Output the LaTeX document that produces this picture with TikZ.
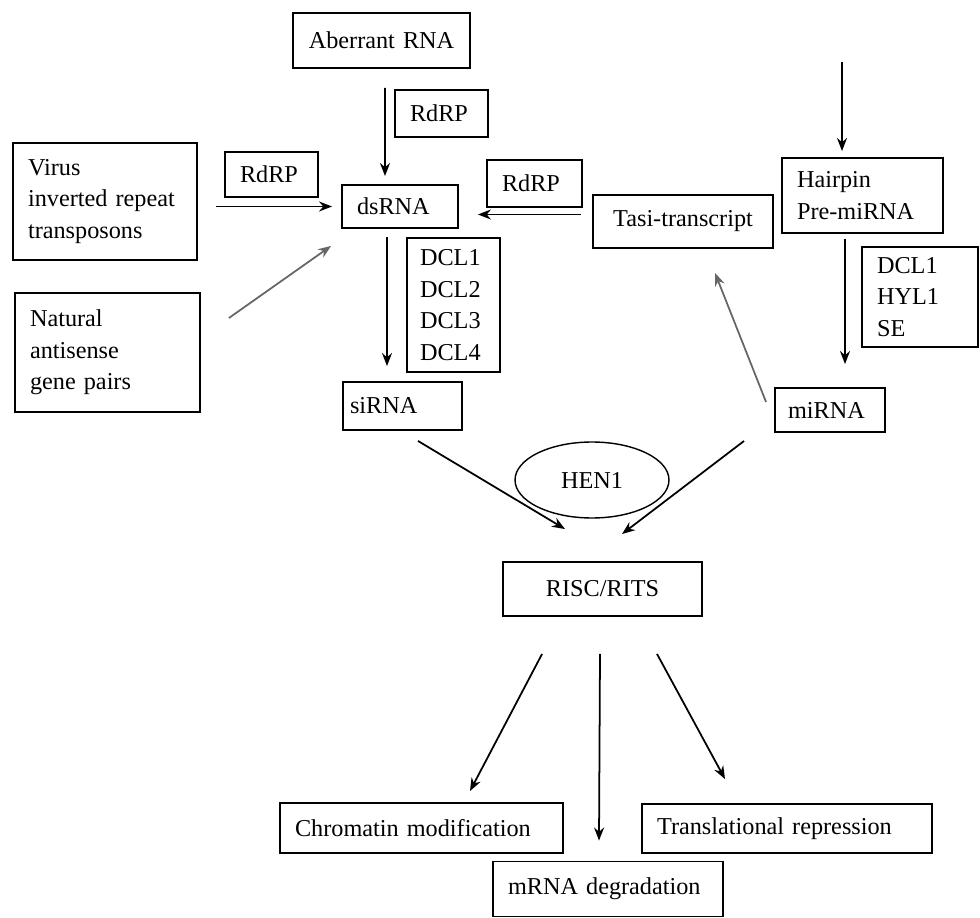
\documentclass[tikz,border=0pt]{standalone}
\usepackage{fontspec}
\setmainfont{Liberation Serif}
\usetikzlibrary{calc,shapes.geometric,arrows.meta}
\tikzset{
  box/.style={draw, line width=1.1pt, inner xsep=0.3cm, inner ysep=0pt, align=left},
  arr/.style={-{Stealth[length=0.26cm,width=0.2cm]}, line width=1pt},
  faint/.style={arr, draw=black!60},
}
\begin{document}
\begin{tikzpicture}[x=0.02cm, y=-0.02cm, font=\fontsize{13.8}{17.9}\selectfont]
  \useasboundingbox (0,0) rectangle (980,918);
  % Sources of dsRNA
  \node[box, align=center, text width=2.94cm, minimum height=1.1cm] (aberrant) at (381.5,40.5) {Aberrant RNA};
  \node[box, text width=1.26cm, minimum height=0.94cm] (rdrpa) at (441.5,113.5) {RdRP};
  \node[box, text width=3.08cm, minimum height=2.34cm] (virus) at (105,201.5) {Virus\\inverted repeat\\transposons};
  \node[box, text width=1.26cm, minimum height=0.9cm] (rdrpb) at (271.5,174.5) {RdRP};
  \node[box, text width=1.72cm, minimum height=0.86cm] (dsrna) at (400,206.5) {dsRNA};
  \node[box, text width=1.3cm, minimum height=0.94cm] (rdrpc) at (534.5,183.5) {RdRP};
  \node[box, align=center, text width=3.0cm, minimum height=1.06cm] (tasi) at (683,221.5) {Tasi-transcript};
  \node[box, text width=2.62cm, minimum height=1.5cm] (hairpin) at (862.5,195.5) {Hairpin\\Pre-miRNA};
  \node[box, inner xsep=0.26cm, text width=1.34cm, minimum height=2.68cm] (dcl) at (453.5,305) {DCL1\\DCL2\\DCL3\\DCL4};
  \node[box, text width=1.72cm, minimum height=2cm] (dclb) at (920,297) {DCL1\\HYL1\\SE};
  \node[box, text width=3.1cm, minimum height=2.38cm] (natural) at (107.5,352.5) {Natural\\antisense\\gene pairs};
  % Small RNAs
  \node[box, inner xsep=0.14cm, text width=2.1cm, minimum height=0.96cm] (sirna) at (402.5,406) {siRNA};
  \node[box, inner xsep=0.26cm, text width=1.68cm, minimum height=0.88cm] (mirna) at (830,410) {miRNA};
  \node[ellipse, draw, line width=0.8pt, minimum width=3.08cm, minimum height=1.52cm] (hen) at (592,480) {HEN1};
  \node[box, align=center, text width=3.38cm, minimum height=1.08cm] (risc) at (602.5,589) {RISC/RITS};
  % Outcomes
  \node[box, text width=5.06cm, minimum height=1cm] (chromatin) at (421.5,828) {Chromatin modification};
  \node[box, text width=5.2cm, minimum height=0.98cm] (transl) at (787,828.5) {Translational repression};
  \node[box, text width=4.0cm, minimum height=1.1cm] (mrna) at (608,889) {mRNA degradation};
  \coordinate (hptop) at (842,62);
  \draw[arr] ($(aberrant.south)+(3.5,19)$) -- ($(dsrna.north)+(-15,-8)$);   % Aberrant RNA to dsRNA
  \draw[arr] ($(virus.east)+(18,5)$) -- ($(dsrna.west)+(-9,0)$);
  \draw[faint] ($(natural.east)+(28,-34.5)$) -- ($(dsrna.south west)+(-10,17)$);
  \draw[arr] ($(tasi.west)+(-11,-7)$) -- ($(dsrna.east)+(19,8)$);
  \draw[arr] ($(dsrna.south)+(-13,8)$) -- ($(sirna.north)+(-15.5,-15)$); % dicing
  \draw[arr] (hptop) -- ($(hairpin.north)+(-20.5,-6)$);
  \draw[arr] ($(hairpin.south)+(-17.5,5)$) -- ($(mirna.north)+(15,-23)$);
  \draw[faint] ($(mirna.west)+(-8,-8)$) -- ($(tasi.south)+(32,24)$);
  \draw[arr] ($(sirna.south)+(15.5,10)$) -- ($(risc.north)+(-37.5,-32)$);
  \draw[arr] ($(mirna.south west)+(-30,8)$) -- ($(risc.north)+(19.5,-27)$);
  \draw[arr] ($(risc.south west)+(40,37)$) -- ($(chromatin.north)+(48.5,-11)$);
  \draw[arr] ($(risc.south)+(-2.5,37)$) -- ($(mrna.north)+(-9,-20)$);
  \draw[arr] ($(risc.south)+(54.5,37)$) -- ($(transl.north)+(-62,-24)$);
\end{tikzpicture}
\end{document}
